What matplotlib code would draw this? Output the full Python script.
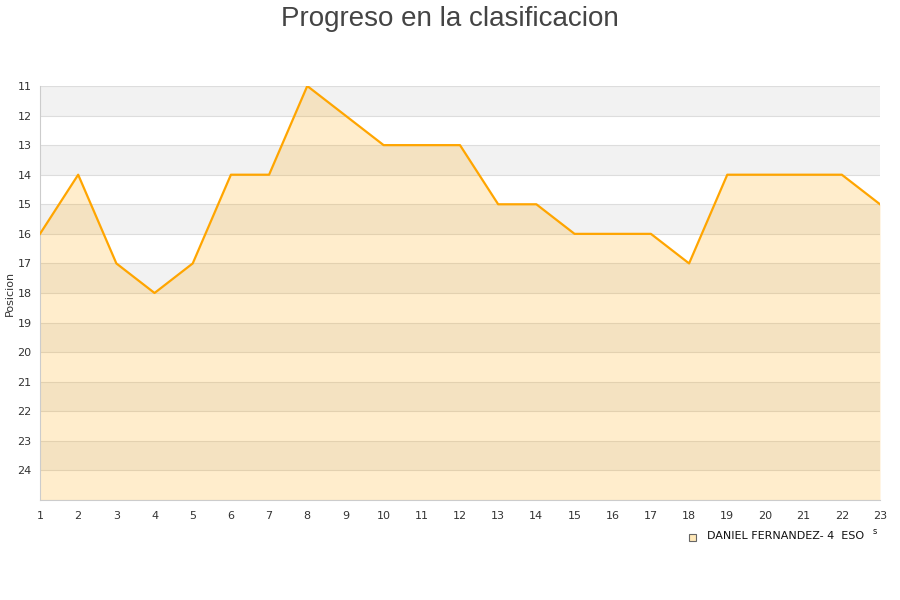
import matplotlib.pyplot as plt
import numpy as np

jornadas = list(range(1, 24))
posicion = [16, 14, 17, 18, 17, 14, 14, 11, 12, 13, 13, 13, 15, 15, 16, 16, 16, 17, 14, 14, 14, 14, 15]
y_ticks = list(range(11, 25))
nombre = "DANIEL FERNANDEZ- 4  ESO"

fig = plt.figure(figsize=(9, 6), dpi=100)
ax = fig.add_axes([40 / 900, 1 - 500 / 600, 840 / 900, 414 / 600])

# alternating bands
for y0 in range(11, 25, 2):
    ax.axhspan(y0, y0 + 1, color="#f2f2f2", zorder=0, lw=0)
for y in range(11, 26):
    ax.axhline(y, color="#dddddd", lw=0.8, zorder=1)

ax.fill_between(jornadas, posicion, 25, color="#ffa500", alpha=0.2, zorder=2, lw=0)
ax.plot(jornadas, posicion, color="#ffa500", lw=1.6, zorder=3)

ax.set_xlim(1, 23)
ax.set_ylim(25, 11)
ax.set_xticks(jornadas)
ax.set_yticks(y_ticks)
ax.tick_params(length=0, labelsize=8, colors="#333333")
ax.tick_params(axis="x", pad=8)
ax.tick_params(axis="y", pad=6)
for s in ["top", "right"]:
    ax.spines[s].set_visible(False)
ax.spines["left"].set_color("#cccccc")
ax.spines["bottom"].set_color("#cccccc")
fig.text(10 / 900, 1 - 293 / 600, "Posicion", fontsize=8, color="#333333",
         rotation=90, ha="center", va="center")

fig.text(0.5, 0.99, "Progreso en la clasificacion", ha="center", va="top",
         fontsize=20, color="#444444", family="Liberation Sans")

# legend
fig.patches.append(plt.Rectangle((689 / 900, 1 - 541 / 600), 7 / 900, 7 / 600,
                                 transform=fig.transFigure, facecolor="#ffe8b8",
                                 edgecolor="#666666", lw=0.8))
fig.text(707 / 900, 1 - 536 / 600, nombre, fontsize=8, va="center", color="#111111")
fig.text(873 / 900, 1 - 532 / 600, "s", fontsize=6, va="center", color="#111111")

plt.savefig("out.png", dpi=100)
